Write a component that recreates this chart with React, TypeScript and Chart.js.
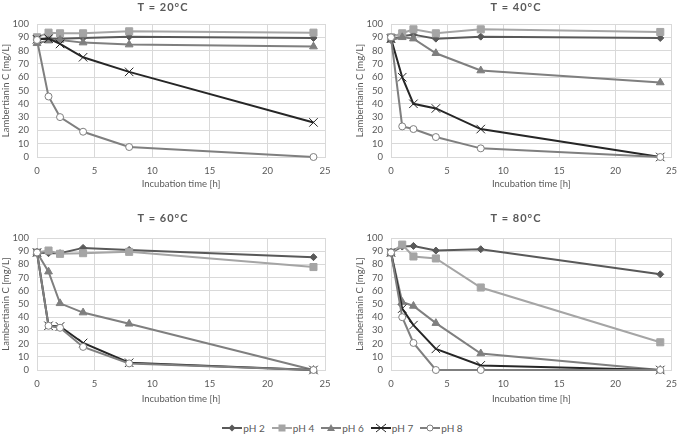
import React, { useEffect, useRef } from "react";
import { Chart, registerables } from "chart.js";
Chart.register(...registerables);

const times = [0, 1, 2, 4, 8, 24];
const seriesLabels = ["pH 2", "pH 4", "pH 6", "pH 7", "pH 8"];
const panelTitles = ["T = 20°C", "T = 40°C", "T = 60°C", "T = 80°C"];
const xAxisTitle = "Incubation time [h]";
const yAxisTitle = "Lambertianin C [mg/L]";

// T = 20 °C
const t20pH2 = [88.5, 89, 89, 89.5, 90.5, 89.5];
const t20pH4 = [90, 93.5, 93, 93, 94.5, 93.5];
const t20pH6 = [85.5, 87.5, 88, 86, 84.5, 83];
const t20pH7 = [88.5, 89, 85, 75, 64, 26];
const t20pH8 = [88, 45.5, 30, 19, 7.5, 0];
// T = 40 °C
const t40pH2 = [88, 91, 92, 89, 90.5, 89.5];
const t40pH4 = [90, 93, 96, 93, 96, 94];
const t40pH6 = [88, 90, 89, 78, 65, 56];
const t40pH7 = [89, 60, 40, 36.5, 21, 0];
const t40pH8 = [90, 23, 21, 15, 6.5, 0];
// T = 60 °C
const t60pH2 = [89, 88.5, 88.5, 92.5, 91, 85.5];
const t60pH4 = [89, 90.5, 88, 88.5, 89.5, 78];
const t60pH6 = [89, 74.5, 50.5, 43.5, 35, 0];
const t60pH7 = [89, 33.5, 33, 20.5, 5.5, 0];
const t60pH8 = [89, 33.5, 32, 17.5, 5, 0];
// T = 80 °C
const t80pH2 = [89, 93.5, 94, 90.5, 91.5, 72.5];
const t80pH4 = [89, 95, 86, 84.5, 62.5, 21];
const t80pH6 = [89, 51.5, 48.5, 35.5, 12.5, 0];
const t80pH7 = [89, 46.5, 34, 16, 3.5, 0];
const t80pH8 = [89, 40, 20.5, 0, 0, 0];

const panelData = [
  [t20pH2, t20pH4, t20pH6, t20pH7, t20pH8],
  [t40pH2, t40pH4, t40pH6, t40pH7, t40pH8],
  [t60pH2, t60pH4, t60pH6, t60pH7, t60pH8],
  [t80pH2, t80pH4, t80pH6, t80pH7, t80pH8],
];

const FONT = "Lato, 'Open Sans', sans-serif";
const TEXT = "#595959";
const GRID = "#d9d9d9";

const styles = [
  { color: "#595959", fill: "#595959", pointStyle: "rectRot", radius: 3.5, width: 2 },
  { color: "#a5a5a5", fill: "#a5a5a5", pointStyle: "rect", radius: 5, width: 2 },
  { color: "#7f7f7f", fill: "#7f7f7f", pointStyle: "triangle", radius: 4.5, width: 2 },
  { color: "#262626", fill: "#262626", pointStyle: "crossRot", radius: 6, width: 2 },
  { color: "#7f7f7f", fill: "#ffffff", pointStyle: "circle", radius: 3.5, width: 2 },
];

const layouts = [
  { left: 0, top: 0, w: 343, h: 192, yW: 37, padRight: 18, padTop: 24, xH: 35, titleX: 163, titleY: 7, yTitlePad: 0.3 },
  { left: 343, top: 0, w: 342, h: 192, yW: 48, padRight: 8, padTop: 24, xH: 35, titleX: 173, titleY: 7, yTitlePad: 11.6 },
  { left: 0, top: 200, w: 343, h: 207, yW: 37, padRight: 18, padTop: 38, xH: 37, titleX: 163, titleY: 18, yTitlePad: 0.3 },
  { left: 343, top: 200, w: 342, h: 207, yW: 48, padRight: 8, padTop: 38, xH: 37, titleX: 173, titleY: 18, yTitlePad: 11.6 },
];

const titlePlugin = {
  id: "panelTitle",
  afterDraw(chart: any, _args: any, opts: any) {
    const ctx = chart.ctx;
    ctx.save();
    ctx.font = `bold 11px ${FONT}`;
    try { (ctx as any).letterSpacing = "1px"; } catch (e) {}
    ctx.fillStyle = TEXT;
    ctx.textAlign = "center";
    ctx.textBaseline = "middle";
    ctx.fillText(opts.text, opts.x, opts.y);
    ctx.restore();
  },
};

function Panel({ idx }: { idx: number }) {
  const ref = useRef<HTMLCanvasElement>(null);
  const L = layouts[idx];
  useEffect(() => {
    const series = panelData[idx];
    const chart = new Chart(ref.current as HTMLCanvasElement, {
      type: "line",
      data: {
        datasets: series.map((vals, i) => ({
          label: seriesLabels[i],
          data: times.map((t, k) => ({ x: t, y: vals[k] })),
          borderColor: styles[i].color,
          backgroundColor: styles[i].fill,
          borderWidth: styles[i].width,
          pointStyle: styles[i].pointStyle as any,
          pointRadius: styles[i].radius,
          pointBorderColor: styles[i].color,
          pointBackgroundColor: styles[i].fill,
          pointBorderWidth: 1,
          tension: 0,
          clip: false as any,
          order: 4 - i,
        })),
      },
      options: {
        animation: false,
        responsive: false,
        events: [],
        layout: { padding: { top: L.padTop, right: L.padRight, left: 0, bottom: 0 } },
        plugins: {
          legend: { display: false },
          tooltip: { enabled: false },
          panelTitle: { text: panelTitles[idx], x: L.titleX, y: L.titleY },
        } as any,
        scales: {
          x: {
            type: "linear",
            min: 0,
            max: 25,
            ticks: { stepSize: 5, autoSkip: false, color: TEXT, font: { family: FONT, size: 9.5 }, padding: 8 },
            grid: { color: GRID, drawTicks: false, lineWidth: 1 },
            border: { color: GRID },
            title: { display: true, text: xAxisTitle, color: TEXT, font: { family: FONT, size: 9.5 }, padding: { top: 0, bottom: 2.4 } },
            afterFit: (s: any) => { s.height = L.xH; },
          },
          y: {
            type: "linear",
            min: 0,
            max: 100,
            ticks: { stepSize: 10, autoSkip: false, color: TEXT, font: { family: FONT, size: 9.5 }, padding: 8 },
            grid: { color: GRID, drawTicks: false, lineWidth: 1 },
            border: { color: GRID },
            title: { display: true, text: yAxisTitle, color: TEXT, font: { family: FONT, size: 9.5 }, padding: { top: L.yTitlePad, bottom: 0 } },
            afterFit: (s: any) => { s.width = L.yW; },
          },
        },
      },
      plugins: [titlePlugin],
    });
    return () => chart.destroy();
  }, []);
  return (
    <canvas
      ref={ref}
      width={L.w}
      height={L.h}
      style={{ position: "absolute", left: L.left, top: L.top, width: L.w, height: L.h }}
    />
  );
}

function Marker({ i }: { i: number }) {
  const s = styles[i];
  const cx = 10, cy = 5;
  let shape: any = null;
  if (s.pointStyle === "rectRot") shape = <polygon points={`${cx},${cy - 3.5} ${cx + 3.5},${cy} ${cx},${cy + 3.5} ${cx - 3.5},${cy}`} fill={s.fill} />;
  else if (s.pointStyle === "rect") shape = <rect x={cx - 3.5} y={cy - 3.5} width={7} height={7} fill={s.fill} />;
  else if (s.pointStyle === "triangle") shape = <polygon points={`${cx},${cy - 4} ${cx + 4},${cy + 3} ${cx - 4},${cy + 3}`} fill={s.fill} />;
  else if (s.pointStyle === "crossRot") shape = <g stroke={s.color} strokeWidth={1}><line x1={cx - 5} y1={cy - 4} x2={cx + 5} y2={cy + 4} /><line x1={cx - 5} y1={cy + 4} x2={cx + 5} y2={cy - 4} /></g>;
  else shape = <circle cx={cx} cy={cy} r={3} fill="#fff" stroke={s.color} strokeWidth={1} />;
  return (
    <svg width={20} height={10} style={{ display: "block" }}>
      <line x1={0} y1={cy} x2={20} y2={cy} stroke={s.color} strokeWidth={2} />
      {shape}
    </svg>
  );
}

export default function App() {
  return (
    <div style={{ position: "fixed", left: 0, top: 0, width: 685, height: 434, background: "#fff", overflow: "hidden" }}>
      {[0, 1, 2, 3].map((i) => <Panel key={i} idx={i} />)}
      <div style={{ position: "absolute", left: 0, top: 421, width: 685, height: 14, display: "flex", justifyContent: "center", alignItems: "center", fontFamily: FONT, fontSize: 10, color: TEXT }}>
        {seriesLabels.map((lab, i) => (
          <div key={lab} style={{ display: "flex", alignItems: "center", marginRight: i < 4 ? 7 : 0 }}>
            <Marker i={i} />
            <span style={{ marginLeft: 1 }}>{lab}</span>
          </div>
        ))}
      </div>
    </div>
  );
}
